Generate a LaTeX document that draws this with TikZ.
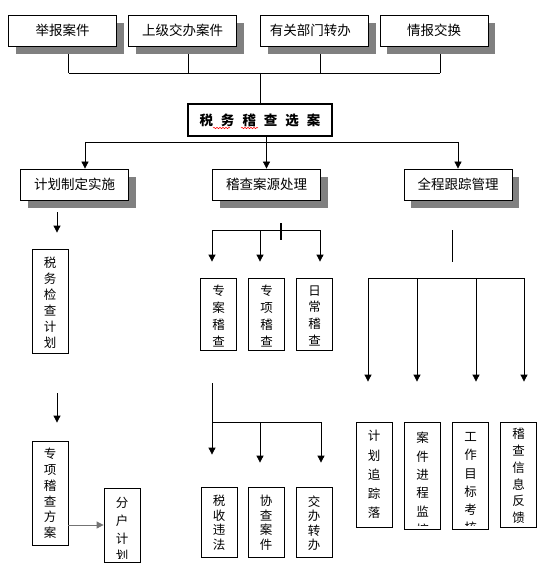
\documentclass[tikz,border=0pt]{standalone}
\usepackage{fontspec}
\setmainfont{Noto Sans CJK SC}
\usepackage{tikz}
\usetikzlibrary{arrows.meta,calc,shadows,decorations.pathmorphing}

\newcommand\chgap{\hspace{8pt}}

\tikzset{
  casebox/.style={draw, fill=white, line width=0.8pt, minimum width=108pt, minimum height=31pt,
    inner sep=0pt, font=\fontsize{13.5pt}{16pt}\selectfont,
    drop shadow={shadow xshift=7pt, shadow yshift=-8pt, fill=black!50, opacity=1}},
  vbox/.style n args={4}{draw, fill=white, line width=0.8pt, minimum width=36pt, minimum height=#1,
    inner sep=0pt,
    path picture={
      \clip ([yshift=4pt]path picture bounding box.south west) rectangle (path picture bounding box.north east);
      \node[anchor=north, inner sep=0pt, minimum width=0pt, minimum height=0pt, align=center,
      font=\fontsize{12.5pt}{#3}\selectfont] at ([yshift=-#2]path picture bounding box.north) {#4};}},
  arr/.style={-{Triangle[width=7pt,length=7pt]}},
  wavy/.style={red, line width=0.5pt, decorate, decoration={snake, amplitude=0.7pt, segment length=3pt}}
}

\begin{document}
\begin{tikzpicture}[x=1pt, y=-1pt, line width=0.8pt]
  \useasboundingbox (0,0) rectangle (537,572);
  % sources
  \node[casebox] (t1) at (62.5,30.5) {举报案件};
  \node[casebox] (t2) at (182.5,30.5) {上级交办案件};
  \node[casebox, path picture={
      \clip ([yshift=4pt]path picture bounding box.south west) rectangle (path picture bounding box.north east);
      \node[anchor=north west, inner sep=0pt, minimum width=0pt, minimum height=0pt,
      align=left, font=\fontsize{13.5pt}{18.5pt}\selectfont]
      at ([xshift=9pt,yshift=-9pt]path picture bounding box.north west) {有关部门转办\\案件};}]
    (t3) at (314.5,30.5) {};
  \node[casebox] (t4) at (434,30.5) {情报交换};
  \coordinate (hub) at (260,73);
  \foreach \i in {1,...,4} {\draw ([xshift=6pt,yshift=-8pt]t\i.south) -- ([xshift=6pt]t\i.south |- hub);}
  \draw ([xshift=6pt]t1.south |- hub) -- ([xshift=6pt]t4.south |- hub);

  % main
  \node[draw, fill=white, line width=1.6pt, preaction={draw=black!45, line width=2.8pt},
    minimum width=144pt, minimum height=32pt, inner sep=0pt,
    font=\fontsize{13.5pt}{16pt}\selectfont\bfseries] (main) at (260,120)
    {税\chgap 务\chgap 稽\chgap 查\chgap 选\chgap 案};
  \draw[wavy] ([xshift=-47pt,yshift=-8pt]main.center) -- ([xshift=-30pt,yshift=-8pt]main.center);
  \draw[wavy] ([xshift=-19pt,yshift=-8pt]main.center) -- ([xshift=-2pt,yshift=-8pt]main.center);
  \draw (hub) -- (main.north);

  % second level
  \node[casebox] (plan) at (74.5,184.5) {计划制定实施};
  \node[casebox] (src) at (266.5,184.5) {稽查案源处理};
  \node[casebox] (track) at (458,184.5) {全程跟踪管理};
  \coordinate (fork) at (266.5,142);
  \draw ([xshift=10.5pt]plan.north |- fork) -- (track.north |- fork);
  \draw[arr] ([xshift=10.5pt]plan.north |- fork) -- ([xshift=10.5pt]plan.north);
  \draw[arr] (main.south -| src.north) -- (src.north);
  \draw[arr] (track.north |- fork) -- (track.north);

  % plan branch
  \node[vbox={104pt}{7.5pt}{16pt}{税\\务\\检\\查\\计\\划}] (p1) at (50,301) {};
  \node[vbox={104pt}{7pt}{15.7pt}{专\\项\\稽\\查\\方\\案}] (p2) at (50,493) {};
  \node[vbox={74pt}{9pt}{17.7pt}{分\\户\\计\\划}] (p3) at (122,525) {};
  \draw[arr, shorten <=12pt, shorten >=16pt] ([xshift=7pt]p1.north |- plan.south) -- ([xshift=7pt]p1.north);
  \draw[arr, shorten <=40pt, shorten >=18pt] ([xshift=7pt]p1.south) -- ([xshift=7pt]p2.north);
  \draw[arr, draw=black!55] (p3.west -| p2.east) -- (p3.west);

  % source branch
  \node[vbox={72pt}{7pt}{16.8pt}{专\\案\\稽\\查}] (s1) at (218.5,314) {};
  \node[vbox={72pt}{7pt}{16.8pt}{专\\项\\稽\\查}] (s2) at (266.5,314) {};
  \node[vbox={72pt}{7pt}{16.8pt}{日\\常\\稽\\查}] (s3) at (314.5,314) {};
  \coordinate (m1) at (212,230);
  \coordinate (m2) at (260,230);
  \coordinate (m3) at (320,230);
  \draw (m1) -- (m3);
  \foreach \m in {m1,m2,m3} {\draw[arr, shorten >=16pt] (\m) -- (\m |- s1.north);}
  \draw[line width=1.6pt] ([xshift=21pt,yshift=7pt]m2) -- ([xshift=21pt,yshift=-10pt]m2);

  \node[vbox={70pt}{8pt}{14.5pt}{税\\收\\违\\法}] (l1) at (219,522) {};
  \node[vbox={70pt}{8pt}{14.5pt}{协\\查\\案\\件}] (l2) at (266,522) {};
  \node[vbox={70pt}{8pt}{14.5pt}{交\\办\\转\\办}] (l3) at (314,522) {};
  \coordinate (n1) at (212,422);
  \coordinate (n2) at (260,422);
  \coordinate (n3) at (321,422);
  \draw[arr, shorten <=33pt, shorten >=32pt] (s1.south -| n1) -- (n1 |- l1.north);
  \draw (n1) -- (n3);
  \foreach \n in {n2,n3} {\draw[arr, shorten >=24pt] (\n) -- (\n |- l2.north);}

  % tracking branch
  \node[vbox={105pt}{8pt}{19.2pt}{计\\划\\追\\踪\\落}] (q1) at (374,474.5) {};
  \node[vbox={107pt}{10pt}{18.3pt}{案\\件\\进\\程\\监\\控}] (q2) at (422.5,475.5) {};
  \node[vbox={107pt}{10pt}{18.3pt}{工\\作\\目\\标\\考\\核}] (q3) at (470.5,475.5) {};
  \node[vbox={105pt}{6pt}{16.7pt}{稽\\查\\信\\息\\反\\馈}] (q4) at (518.5,474.5) {};
  \coordinate (r1) at (368,278);
  \coordinate (r2) at (417,278);
  \coordinate (r3) at (476,278);
  \coordinate (r4) at (524,278);
  \draw[shorten <=30pt, shorten >=16pt] ([xshift=-6pt]track.south) -- ([xshift=-6pt]track.south |- r1);
  \draw (r1) -- (r4);
  \foreach \r in {r1,r2,r3,r4} {\draw[arr, shorten >=40pt] (\r) -- (\r |- q1.north);}
\end{tikzpicture}
\end{document}
